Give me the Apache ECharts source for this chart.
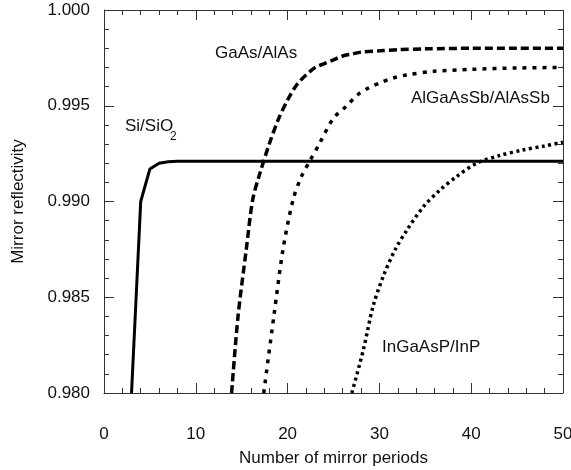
<!DOCTYPE html>
<html>
<head>
<meta charset="utf-8">
<script src="https://cdn.jsdelivr.net/npm/echarts@6/dist/echarts.min.js"></script>
<style>
  html, body { margin: 0; padding: 0; background: #fff; }
  #chart { width: 571px; height: 470px; }
</style>
</head>
<body>
<div id="chart"></div>
<script>
// mirror periods and reflectivity
var siPeriods = [3, 4, 5, 6, 7, 8, 10, 15, 20, 30, 40, 50];
var siR = [0.980, 0.9900, 0.9917, 0.9920, 0.99208, 0.9921, 0.9921, 0.9921, 0.9921, 0.9921, 0.9921, 0.9921];

var gaasPeriods = [13.9, 14.6, 15.5, 16.2, 17, 18, 19, 20, 21, 22, 23, 24, 25, 26, 27, 28, 30, 32, 35, 40, 45, 50];
var gaasR = [0.980, 0.9840, 0.9875, 0.9901, 0.9915, 0.9930, 0.9943, 0.9953, 0.9961, 0.9966, 0.9970, 0.9972, 0.9974, 0.9976, 0.9977, 0.9978, 0.99787, 0.99793, 0.99797, 0.9980, 0.9980, 0.9980];

var algaPeriods = [17.4, 18.5, 19.5, 20.6, 21.5, 22.4, 23.5, 25, 26.3, 27.6, 28.8, 30.3, 31.5, 33, 36, 40, 45, 50];
var algaR = [0.980, 0.9840, 0.9875, 0.9901, 0.9913, 0.9921, 0.99305, 0.99436, 0.99493, 0.99556, 0.99593, 0.99624, 0.99645, 0.99661, 0.9968, 0.9969, 0.99697, 0.9970];

var ingaPeriods = [27, 28.25, 29.3, 30.4, 31.7, 33, 34.8, 36.6, 38.4, 40.6, 43.1, 45.6, 48, 50];
var ingaR = [0.980, 0.98225, 0.98451, 0.98607, 0.98747, 0.98851, 0.98973, 0.9906, 0.9913, 0.9920, 0.9924, 0.99269, 0.9929, 0.9931];

var xTicks = [0, 10, 20, 30, 40, 50];
var yTicks = [0.980, 0.985, 0.990, 0.995, 1.000];

function pairs(xs, ys) {
    var out = [];
    for (var i = 0; i < xs.length; i++) out.push([xs[i], ys[i]]);
    return out;
}

var myChart = echarts.init(document.getElementById('chart'));
var font = 'Liberation Sans, Arial, sans-serif';
var axisColor = '#333';
var L = 104, R = 8, T = 10, B = 77;
var xMin = xTicks[0], xMax = xTicks[xTicks.length - 1];
var yMin = yTicks[0], yMax = yTicks[yTicks.length - 1];

var grids = [{ left: L, right: R, top: T, bottom: B, outerBoundsMode: 'none' }];
var xAxes = [{
    type: 'value', gridIndex: 0, position: 'bottom', min: xMin, max: xMax, interval: 10,
    name: 'Number of mirror periods', nameLocation: 'middle', nameGap: 57,
    nameTextStyle: { fontFamily: font, fontSize: 17, color: '#111' },
    axisLine: { show: true, onZero: false, lineStyle: { color: axisColor } },
    axisTick: { show: false },
    axisLabel: { margin: 33, fontFamily: font, fontSize: 17, color: '#111' },
    splitLine: { show: false }
}];
var yAxes = [{
    type: 'value', gridIndex: 0, position: 'left', min: yMin, max: yMax, interval: 0.005,
    name: 'Mirror reflectivity', nameLocation: 'middle', nameGap: 77,
    nameTextStyle: { fontFamily: font, fontSize: 17, color: '#111' },
    axisLine: { show: true, onZero: false, lineStyle: { color: axisColor } },
    axisTick: { show: false },
    axisLabel: {
        margin: 14, fontFamily: font, fontSize: 17, color: '#111',
        formatter: function (v) { return v.toFixed(3); }
    },
    splitLine: { show: false }
}];

// helper grids: split lines of these axes give the box and the inside ticks
function lineAxis(gi, isX, interval, major, minor) {
    return {
        type: 'value', gridIndex: gi,
        min: isX ? xMin : yMin, max: isX ? xMax : yMax, interval: interval,
        axisLine: { show: false }, axisTick: { show: false }, axisLabel: { show: false },
        minorTick: { show: false, splitNumber: 5 },
        splitLine: { show: major, lineStyle: { color: axisColor, width: 1 } },
        minorSplitLine: { show: minor, lineStyle: { color: axisColor, width: 1 } }
    };
}
function hiddenAxis(gi) {
    return { type: 'value', gridIndex: gi, show: false };
}
function addGrid(box, isX, interval, major, minor) {
    var gi = grids.length;
    box.outerBoundsMode = 'none';
    grids.push(box);
    if (isX) {
        xAxes.push(lineAxis(gi, true, interval, major, minor));
        yAxes.push(hiddenAxis(gi));
    } else {
        xAxes.push(hiddenAxis(gi));
        yAxes.push(lineAxis(gi, false, interval, major, minor));
    }
}
// frame
addGrid({ left: L, right: R, top: T, bottom: B }, true, 50, true, false);
addGrid({ left: L, right: R, top: T, bottom: B }, false, 0.02, true, false);
// x ticks, bottom and top
addGrid({ left: L, right: R, bottom: B, height: 10 }, true, 10, true, false);
addGrid({ left: L, right: R, bottom: B, height: 5 }, true, 10, false, true);
addGrid({ left: L, right: R, top: T, height: 10 }, true, 10, true, false);
addGrid({ left: L, right: R, top: T, height: 5 }, true, 10, false, true);
// y ticks, left and right
addGrid({ left: L, width: 10, top: T, bottom: B }, false, 0.005, true, false);
addGrid({ left: L, width: 5, top: T, bottom: B }, false, 0.005, false, true);
addGrid({ right: R, width: 10, top: T, bottom: B }, false, 0.005, true, false);
addGrid({ right: R, width: 5, top: T, bottom: B }, false, 0.005, false, true);

var option = {
    animation: false,
    grid: grids,
    xAxis: xAxes,
    yAxis: yAxes,
    series: [
        {
            name: 'Si/SiO2', type: 'line', showSymbol: false,
            data: pairs(siPeriods, siR),
            lineStyle: { color: '#000', width: 3 }
        },
        {
            name: 'GaAs/AlAs', type: 'line', showSymbol: false, smooth: 0.3,
            data: pairs(gaasPeriods, gaasR),
            lineStyle: { color: '#000', width: 3.5, type: [8, 4] }
        },
        {
            name: 'AlGaAsSb/AlAsSb', type: 'line', showSymbol: false, smooth: 0.3,
            data: pairs(algaPeriods, algaR),
            lineStyle: { color: '#000', width: 3.5, type: [4, 6] }
        },
        {
            name: 'InGaAsP/InP', type: 'line', showSymbol: false, smooth: 0.3,
            data: pairs(ingaPeriods, ingaR),
            lineStyle: { color: '#000', width: 3.5, type: [3, 3.5] }
        }
    ],
    graphic: [
        { type: 'text', x: 215, y: 53, style: { text: 'GaAs/AlAs', font: '17px ' + font, fill: '#111', verticalAlign: 'middle' } },
        { type: 'text', x: 411, y: 98, style: { text: 'AlGaAsSb/AlAsSb', font: '17px ' + font, fill: '#111', verticalAlign: 'middle' } },
        { type: 'text', x: 125, y: 126, style: { text: 'Si/SiO', font: '17px ' + font, fill: '#111', verticalAlign: 'middle' } },
        { type: 'text', x: 170, y: 137, style: { text: '2', font: '12px ' + font, fill: '#111', verticalAlign: 'middle' } },
        { type: 'text', x: 382, y: 347, style: { text: 'InGaAsP/InP', font: '17px ' + font, fill: '#111', verticalAlign: 'middle' } }
    ]
};

myChart.setOption(option);
</script>
</body>
</html>
